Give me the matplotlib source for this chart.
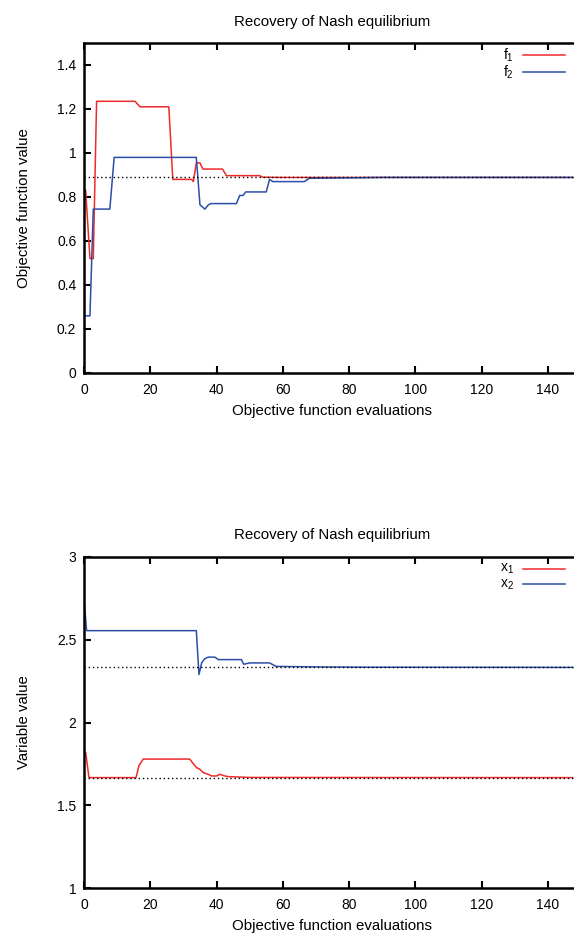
import matplotlib
matplotlib.use("Agg")
import matplotlib.pyplot as plt
from matplotlib.lines import Line2D

plt.rcParams["font.family"] = ["Liberation Sans", "DejaVu Sans"]
plt.rcParams["mathtext.fontset"] = "custom"
plt.rcParams["mathtext.rm"] = "Liberation Sans"
plt.rcParams["mathtext.it"] = "Liberation Sans"

# Данные
f1_x = [0, 0.5, 1.8, 2.8, 3.8, 15.4, 16.9, 25.6, 26.8, 32.5, 33.0, 33.9, 35.0, 35.9,
        41.8, 43.0, 53.0, 54.0, 60, 147.5]
f1_y = [0.84, 0.83, 0.52, 0.52, 1.235, 1.235, 1.21, 1.21, 0.88, 0.88, 0.87, 0.955,
        0.955, 0.927, 0.927, 0.897, 0.897, 0.890, 0.889, 0.889]

f2_x = [0, 1.8, 2.8, 7.8, 9.1, 33.9, 35.0, 36.5, 37.5, 38.3, 46.0, 47.0, 48.0, 48.8,
        55.0, 56.0, 57.0, 66.5, 68.0, 80, 90, 147.5]
f2_y = [0.26, 0.26, 0.745, 0.745, 0.98, 0.98, 0.764, 0.745, 0.764, 0.77, 0.77, 0.807,
        0.807, 0.823, 0.823, 0.88, 0.87, 0.87, 0.885, 0.887, 0.889, 0.889]

x1_x = [0, 0.5, 1.5, 15.7, 16.6, 17.9, 31.9, 33.4, 34.0, 35.0, 36.0, 37.5, 38.5, 40.0,
        41.0, 42.5, 43.5, 50, 147.5]
x1_y = [1.821, 1.82, 1.667, 1.667, 1.74, 1.779, 1.779, 1.741, 1.727, 1.717, 1.697,
        1.687, 1.677, 1.677, 1.687, 1.677, 1.673, 1.668, 1.667]

x2_x = [0, 0.8, 33.9, 34.7, 35.5, 36.4, 37.5, 39.5, 40.5, 47.5, 48.2, 50.0, 56.0,
        58.0, 70, 85, 147.5]
x2_y = [2.74, 2.555, 2.555, 2.29, 2.36, 2.385, 2.395, 2.395, 2.38, 2.38, 2.352, 2.36,
        2.36, 2.339, 2.336, 2.334, 2.333]

f_nash = 8 / 9
x1_nash = 5 / 3
x2_nash = 7 / 3

xticks = [0, 20, 40, 60, 80, 100, 120, 140]
f_yticks = [0, 0.2, 0.4, 0.6, 0.8, 1, 1.2, 1.4]
f_yticklabels = ["0", "0.2", "0.4", "0.6", "0.8", "1", "1.2", "1.4"]
x_yticks = [1, 1.5, 2, 2.5, 3]
x_yticklabels = ["1", "1.5", "2", "2.5", "3"]

RED = "#ee2a2a"
BLUE = "#2c4ea8"
TITLE = "Recovery of Nash equilibrium"
XLABEL = "Objective function evaluations"

W, H = 574, 938
fig = plt.figure(figsize=(W / 100, H / 100), dpi=100)

left = 84 / W
width = 497 / W  # ось уходит за правый край, как на исходнике


def style_axis(ax):
    for side in ["left", "bottom", "top"]:
        ax.spines[side].set_linewidth(1.8)
    ax.spines["right"].set_visible(False)
    ax.tick_params(direction="in", length=5, width=1.5, top=True, right=False,
                   labelsize=10)
    ax.tick_params(axis="x", pad=7)
    ax.tick_params(axis="y", pad=5.5)
    ax.set_xlim(0, 150)
    ax.set_xticks(xticks)
    ax.set_xticklabels([str(t) for t in xticks])


def key(labels, colors, y_px, step=15.3):
    # легенда в стиле gnuplot: подпись справа налево, затем отрезок линии
    for i, (lab, col) in enumerate(zip(labels, colors)):
        y = 1 - (y_px + step * i) / H
        fig.text(514 / W, y, lab, ha="right", va="center", fontsize=10)
        fig.add_artist(Line2D([523 / W, 565 / W], [y, y], color=col, lw=1.1,
                              transform=fig.transFigure))


# Верхний график
ax1 = fig.add_axes([left, 1 - 373 / H, width, (373 - 43) / H])
ax1.plot(f1_x, f1_y, color=RED, lw=1.1)
ax1.plot(f2_x, f2_y, color=BLUE, lw=1.1)
ax1.axhline(f_nash, color="black", lw=1.0, ls=(0, (1, 2)))
style_axis(ax1)
ax1.set_ylim(0, 1.5)
ax1.set_yticks(f_yticks)
ax1.set_yticklabels(f_yticklabels)
ax1.set_title(TITLE, fontsize=10.8, pad=12.3)
ax1.set_xlabel(XLABEL, fontsize=10.8, labelpad=5.5)
ax1.set_ylabel("Objective function value", fontsize=10.8, labelpad=19)
key([r"f$_{1}$", r"f$_{2}$"], [RED, BLUE], 55.0, step=17)

# Нижний график
ax2 = fig.add_axes([left, 1 - 888 / H, width, (888 - 557) / H])
ax2.plot(x1_x, x1_y, color=RED, lw=1.1)
ax2.plot(x2_x, x2_y, color=BLUE, lw=1.1)
ax2.axhline(x1_nash, color="black", lw=1.0, ls=(0, (1, 2)))
ax2.axhline(x2_nash, color="black", lw=1.0, ls=(0, (1, 2)))
style_axis(ax2)
ax2.set_ylim(1, 3)
ax2.set_yticks(x_yticks)
ax2.set_yticklabels(x_yticklabels)
ax2.set_title(TITLE, fontsize=10.8, pad=13)
ax2.set_xlabel(XLABEL, fontsize=10.8, labelpad=5.5)
ax2.set_ylabel("Variable value", fontsize=10.8, labelpad=19)
key([r"x$_{1}$", r"x$_{2}$"], [RED, BLUE], 569)

fig.savefig("out.png", dpi=100)
